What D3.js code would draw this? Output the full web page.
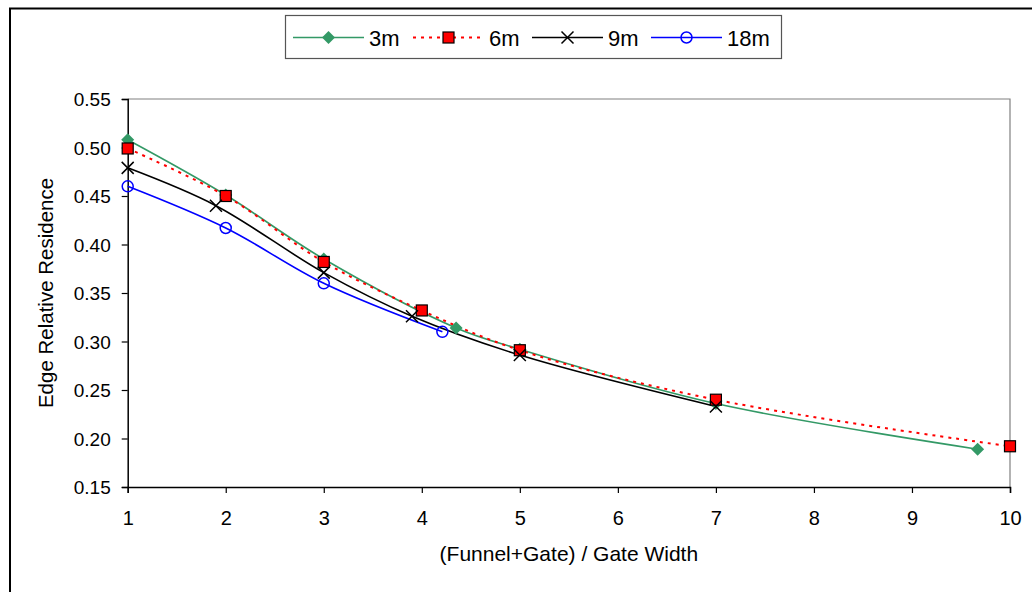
<!DOCTYPE html>
<html>
<head>
<meta charset="utf-8">
<script src="https://cdn.jsdelivr.net/npm/d3@7"></script>
<style>
  html, body { margin: 0; padding: 0; background: #fff; }
  svg { display: block; font-family: "Liberation Sans", Arial, sans-serif; }
</style>
</head>
<body>
<svg id="chart" width="1032" height="592"></svg>
<script>
// Ratio of (funnel + gate) width to gate width, per series
const x3m  = [1, 2, 3, 4.35, 5, 7, 9.67];
const y3m  = [0.508, 0.451, 0.385, 0.314, 0.292, 0.236, 0.189];
const x6m  = [1, 2, 3, 4, 5, 7, 10];
const y6m  = [0.499, 0.450, 0.382, 0.332, 0.291, 0.240, 0.192];
const x9m  = [1, 1.9, 3, 3.9, 5, 7];
const y9m  = [0.479, 0.440, 0.371, 0.326, 0.286, 0.233];
const x18m = [1, 2, 3, 4.21];
const y18m = [0.460, 0.417, 0.360, 0.310];

const seriesNames = ["3m", "6m", "9m", "18m"];
const xTicks = [1, 2, 3, 4, 5, 6, 7, 8, 9, 10];
const yTicks = [0.15, 0.20, 0.25, 0.30, 0.35, 0.40, 0.45, 0.50, 0.55];

const series = [
  { name: seriesNames[0], xs: x3m,  ys: y3m,  color: "#339966", dash: null,  marker: "diamond" },
  { name: seriesNames[1], xs: x6m,  ys: y6m,  color: "#FF0000", dash: "3,5", marker: "square" },
  { name: seriesNames[2], xs: x9m,  ys: y9m,  color: "#000000", dash: null,  marker: "cross" },
  { name: seriesNames[3], xs: x18m, ys: y18m, color: "#0000FF", dash: null,  marker: "circle" }
];

const svg = d3.select("#chart");
const plot = { left: 127.7, right: 1010, top: 99, bottom: 487 };

const x = d3.scaleLinear().domain([1, 10]).range([plot.left, plot.right]);
const y = d3.scaleLinear().domain([0.15, 0.55]).range([plot.bottom, plot.top]);

// outer chart frame (runs past the right and bottom edges)
svg.append("path")
  .attr("d", "M10,600 L10,8.5 L1040,8.5")
  .attr("fill", "none").attr("stroke", "#000").attr("stroke-width", 2);

// plot area border on top and right
svg.append("path")
  .attr("d", `M${plot.left},${plot.top} L${plot.right},${plot.top} L${plot.right},${plot.bottom}`)
  .attr("fill", "none").attr("stroke", "#808080").attr("stroke-width", 1.2);

// axes
const xAxis = d3.axisBottom(x).tickValues(xTicks).tickSize(6).tickFormat(d3.format("d"));
const yAxis = d3.axisLeft(y).tickValues(yTicks).tickSize(6).tickFormat(d3.format(".2f"));

const gx = svg.append("g").attr("transform", `translate(0,${plot.bottom})`).call(xAxis);
const gy = svg.append("g").attr("transform", `translate(${plot.left},0)`).call(yAxis);

[gx, gy].forEach(g => {
  g.select(".domain").attr("stroke", "#000").attr("stroke-width", 1.5);
  g.selectAll(".tick line").attr("stroke", "#000").attr("stroke-width", 1.2);
  g.selectAll("text").attr("fill", "#000").attr("font-family", "Liberation Sans, Arial, sans-serif");
});
gx.selectAll("text").attr("font-size", 20).attr("y", 0).attr("dy", 0)
  .attr("transform", "translate(0,38)");
gy.selectAll("text").attr("font-size", 19).attr("x", -17).attr("dy", "0.35em");

// axis titles
svg.append("text")
  .attr("x", (plot.left + plot.right) / 2).attr("y", 561)
  .attr("text-anchor", "middle").attr("font-size", 21)
  .text("(Funnel+Gate) / Gate Width");

svg.append("text")
  .attr("transform", `translate(53,${(plot.top + plot.bottom) / 2}) rotate(-90)`)
  .attr("text-anchor", "middle").attr("font-size", 20.5)
  .text("Edge Relative Residence");

// marker drawing
function drawMarker(g, type, color) {
  if (type === "diamond") {
    g.append("path").attr("d", "M0,-6.5 L6.5,0 L0,6.5 L-6.5,0 Z").attr("fill", color);
  } else if (type === "square") {
    g.append("rect").attr("x", -5.5).attr("y", -5.5).attr("width", 11).attr("height", 11)
      .attr("fill", "#FF0000").attr("stroke", "#000").attr("stroke-width", 1.2);
  } else if (type === "cross") {
    g.append("path").attr("d", "M-6,-6 L6,6 M-6,6 L6,-6")
      .attr("stroke", "#000").attr("stroke-width", 1.5).attr("fill", "none");
  } else if (type === "circle") {
    g.append("circle").attr("r", 5.5).attr("fill", "none")
      .attr("stroke", color).attr("stroke-width", 1.5);
  }
}

const line = d3.line()
  .x(d => x(d[0])).y(d => y(d[1]))
  .curve(d3.curveCatmullRom.alpha(0.5));

series.forEach(s => {
  const pts = s.xs.map((v, i) => [v, s.ys[i]]);
  svg.append("path")
    .datum(pts)
    .attr("d", line)
    .attr("fill", "none")
    .attr("stroke", s.color)
    .attr("stroke-width", s.dash ? 2 : 1.6)
    .attr("stroke-dasharray", s.dash);
});

series.forEach(s => {
  s.xs.forEach((v, i) => {
    const g = svg.append("g").attr("transform", `translate(${x(v)},${y(s.ys[i])})`);
    drawMarker(g, s.marker, s.color);
  });
});

// legend
const legend = svg.append("g");
legend.append("rect")
  .attr("x", 285.5).attr("y", 15.5).attr("width", 496).attr("height", 43)
  .attr("fill", "#fff").attr("stroke", "#555").attr("stroke-width", 1.2);

const legendX = [293, 413, 532, 651];
series.forEach((s, i) => {
  const lx = legendX[i];
  const ly = 37.5;
  legend.append("line")
    .attr("x1", lx).attr("x2", lx + 71).attr("y1", ly).attr("y2", ly)
    .attr("stroke", s.color).attr("stroke-width", s.dash ? 2 : 1.6)
    .attr("stroke-dasharray", s.dash);
  const g = legend.append("g").attr("transform", `translate(${lx + 35.5},${ly})`);
  drawMarker(g, s.marker, s.color);
  legend.append("text")
    .attr("x", lx + 76).attr("y", 46).attr("font-size", 22)
    .text(s.name);
});
</script>
</body>
</html>
